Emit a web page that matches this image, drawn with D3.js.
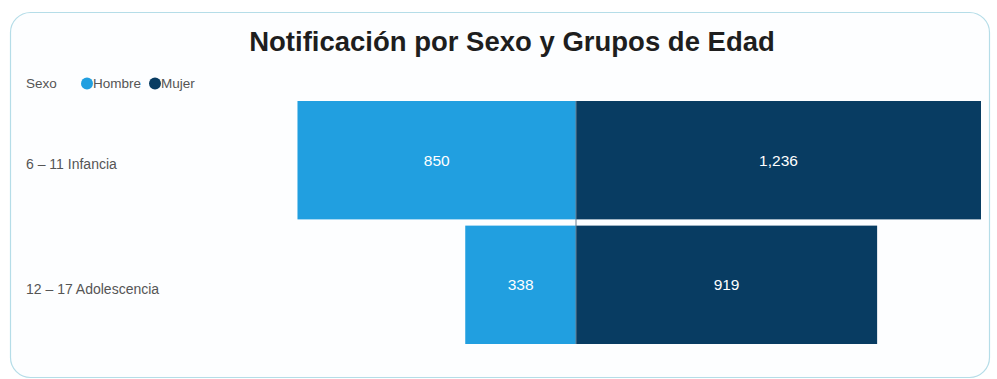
<!DOCTYPE html>
<html>
<head>
<meta charset="utf-8">
<script src="https://cdn.jsdelivr.net/npm/d3@7"></script>
<style>
	body { margin: 0; background: #fff; }
	svg { display: block; font-family: "Liberation Sans", Arial, sans-serif; }
</style>
</head>
<body>
<div id="chart"></div>
<script>
// data
var categories = ['6 – 11 Infancia', '12 – 17 Adolescencia'];
var series = ['Hombre', 'Mujer'];
var hombre = [850, 338];
var mujer = [1236, 919];
var colors = ['#219fe0', '#083c62'];

var width = 997, height = 379;

var svg = d3.select('#chart').append('svg')
	.attr('width', width)
	.attr('height', height);

// card
svg.append('rect')
	.attr('x', 10.5).attr('y', 12.5)
	.attr('width', 979).attr('height', 365)
	.attr('rx', 20).attr('ry', 20)
	.attr('fill', '#fdfeff')
	.attr('stroke', '#b5dde8')
	.attr('stroke-width', 1.2);

// title
svg.append('text')
	.attr('x', 512).attr('y', 51)
	.attr('text-anchor', 'middle')
	.attr('font-size', 27.5)
	.attr('font-weight', 'bold')
	.attr('fill', '#1e1e1e')
	.text('Notificación por Sexo y Grupos de Edad');

// legend
var legend = svg.append('g').attr('font-size', 13.5).attr('fill', '#555');
legend.append('text').attr('x', 26).attr('y', 88).text('Sexo');
var legX = [87, 155];
series.forEach(function(s, i) {
	legend.append('circle')
		.attr('cx', legX[i]).attr('cy', 83.5).attr('r', 6)
		.attr('fill', colors[i]);
	legend.append('text')
		.attr('x', legX[i] + 6).attr('y', 88)
		.text(s);
});

var xScale = d3.scaleLinear()
	.domain([-d3.max(mujer), d3.max(mujer)])
	.range([171, 981]);

var yScale = d3.scaleBand()
	.domain(categories)
	.range([101, 344])
	.paddingInner(0.05);

var rows = categories.map(function(c, i) {
	return {cat: c, h: hombre[i], m: mujer[i]};
});

var g = svg.append('g');

// Hombre bars (left)
g.selectAll('rect.hombre')
	.data(rows)
	.enter().append('rect')
	.attr('class', 'hombre')
	.attr('x', function(d) { return xScale(-d.h); })
	.attr('y', function(d) { return yScale(d.cat); })
	.attr('width', function(d) { return xScale(0) - xScale(-d.h); })
	.attr('height', yScale.bandwidth())
	.attr('fill', colors[0]);

// Mujer bars (right)
g.selectAll('rect.mujer')
	.data(rows)
	.enter().append('rect')
	.attr('class', 'mujer')
	.attr('x', xScale(0))
	.attr('y', function(d) { return yScale(d.cat); })
	.attr('width', function(d) { return xScale(d.m) - xScale(0); })
	.attr('height', yScale.bandwidth())
	.attr('fill', colors[1]);

// center line
g.append('line')
	.attr('x1', xScale(0)).attr('x2', xScale(0))
	.attr('y1', yScale.range()[0]).attr('y2', yScale.range()[1])
	.attr('stroke', '#6b7f90')
	.attr('stroke-width', 1);

var fmt = d3.format(',');

// value labels
g.selectAll('text.lh')
	.data(rows)
	.enter().append('text')
	.attr('class', 'lh')
	.attr('x', function(d) { return (xScale(-d.h) + xScale(0)) / 2; })
	.attr('y', function(d) { return yScale(d.cat) + yScale.bandwidth() / 2; })
	.attr('dy', '0.35em')
	.attr('text-anchor', 'middle')
	.attr('font-size', 15.5)
	.attr('fill', '#fff')
	.text(function(d) { return fmt(d.h); });

g.selectAll('text.lm')
	.data(rows)
	.enter().append('text')
	.attr('class', 'lm')
	.attr('x', function(d) { return (xScale(d.m) + xScale(0)) / 2; })
	.attr('y', function(d) { return yScale(d.cat) + yScale.bandwidth() / 2; })
	.attr('dy', '0.35em')
	.attr('text-anchor', 'middle')
	.attr('font-size', 15.5)
	.attr('fill', '#fff')
	.text(function(d) { return fmt(d.m); });

// category labels
g.selectAll('text.cat')
	.data(categories)
	.enter().append('text')
	.attr('class', 'cat')
	.attr('x', 26)
	.attr('y', function(d) { return yScale(d) + yScale.bandwidth() / 2 + 4; })
	.attr('dy', '0.35em')
	.attr('font-size', 14)
	.attr('fill', '#555')
	.text(function(d) { return d; });
</script>
</body>
</html>
